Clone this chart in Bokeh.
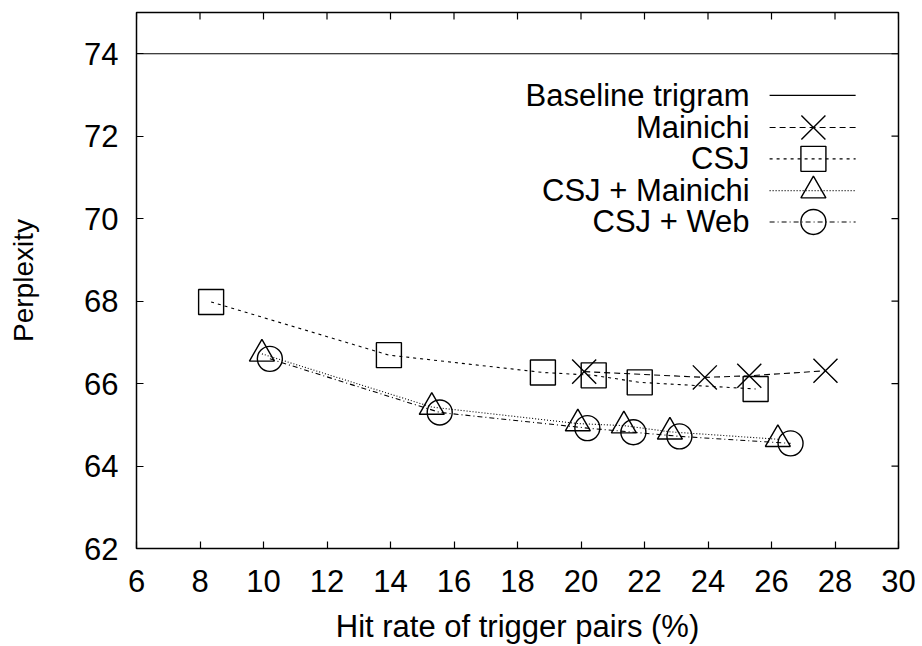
from bokeh.plotting import figure
from bokeh.models import Span, Label, FixedTicker, Range1d
from bokeh.embed import file_html
from bokeh.resources import INLINE

# ---- data ----
baseline_value = 74.0

mainichi_x = [20.1, 23.9, 25.3, 27.7]
mainichi_y = [66.29, 66.15, 66.19, 66.31]

csj_x = [8.35, 13.95, 18.8, 20.4, 21.85, 25.5]
csj_y = [67.98, 66.69, 66.27, 66.20, 66.03, 65.87]

csj_mainichi_x = [9.95, 15.3, 19.9, 21.35, 22.8, 26.2]
csj_mainichi_y = [66.72, 65.43, 65.03, 64.98, 64.83, 64.65]

csj_web_x = [10.2, 15.55, 20.2, 21.65, 23.1, 26.6]
csj_web_y = [66.60, 65.30, 64.92, 64.82, 64.72, 64.55]

x_ticks = [6, 8, 10, 12, 14, 16, 18, 20, 22, 24, 26, 28, 30]
y_ticks = [62, 64, 66, 68, 70, 72, 74]

legend_labels = ["Baseline trigram", "Mainichi", "CSJ", "CSJ + Mainichi", "CSJ + Web"]
x_title = "Hit rate of trigger pairs (%)"
y_title = "Perplexity"

FONT = "Liberation Sans"
INK = "black"

X0, X1, Y0, Y1 = 6, 30, 62, 75
W, H = 922, 646
BL, BR, BT, BB = 136, 24, 12, 97

p = figure(width=W, height=H, output_backend="svg", toolbar_location=None,
           x_range=Range1d(X0, X1), y_range=Range1d(Y0, Y1),
           min_border_left=BL, min_border_right=BR, min_border_top=BT, min_border_bottom=BB)
p.background_fill_color = "white"
p.border_fill_color = "white"
p.outline_line_color = "black"
p.outline_line_width = 1.5
p.xgrid.visible = False
p.ygrid.visible = False

def style_axis(ax, ticks):
    ax.ticker = FixedTicker(ticks=ticks)
    ax.major_tick_in = 7
    ax.major_tick_out = 0
    ax.minor_tick_in = 0
    ax.minor_tick_out = 0
    ax.major_tick_line_color = "black"
    ax.major_tick_line_width = 1.2
    ax.axis_line_color = None
    ax.major_label_text_font = FONT
    ax.major_label_text_color = INK
    ax.major_label_text_font_size = "31px"
    ax.axis_label_text_font = FONT
    ax.axis_label_text_font_style = "normal"
    ax.axis_label_text_color = INK

xa = p.xaxis[0]
style_axis(xa, x_ticks)
xa.axis_label = x_title
xa.axis_label_text_font_size = "31px"
xa.major_label_standoff = 21
xa.axis_label_standoff = 14

ya = p.yaxis[0]
style_axis(ya, y_ticks)
ya.axis_label = y_title
ya.axis_label_text_font_size = "28px"
ya.major_label_standoff = 18
ya.axis_label_standoff = 42

px_x = (W - BL - BR) / (X1 - X0)
px_y = (H - BT - BB) / (Y1 - Y0)

# mirrored inner ticks on the top and right borders (gnuplot style)
tick_len = 7
p.segment(x0=x_ticks, y0=[Y1] * len(x_ticks), x1=x_ticks,
          y1=[Y1 - tick_len / px_y] * len(x_ticks), line_color="black", line_width=1.2)
p.segment(x0=[X1] * len(y_ticks), y0=y_ticks, x1=[X1 - tick_len / px_x] * len(y_ticks),
          y1=y_ticks, line_color="black", line_width=1.2)

# ---- series ----
p.add_layout(Span(location=baseline_value, dimension="width", line_color=INK, line_width=1.2))

series = [
    (mainichi_x, mainichi_y, "6 4", "x", 34),
    (csj_x, csj_y, "3 4", "square", 25),
    (csj_mainichi_x, csj_mainichi_y, "1 2", "triangle", 25),
    (csj_web_x, csj_web_y, "5 3 1 3", "circle", 25),
]

for xs, ys, dash, marker, size in series:
    p.line(xs, ys, line_color=INK, line_width=1.1, line_dash=dash)
    p.scatter(xs, ys, marker=marker, size=size, line_color=INK, line_width=1.4,
              fill_alpha=0)

# ---- legend (gnuplot style: text on the left, sample on the right) ----
leg_text_x = 25.31
leg_line_x0, leg_line_x1 = 25.94, 28.65
leg_mark_x = 27.32
leg_rows = [72.99, 72.21, 71.45, 70.68, 69.92]

for i, (label, row) in enumerate(zip(legend_labels, leg_rows)):
    p.add_layout(Label(x=leg_text_x, y=row, text=label, text_align="right",
                       text_baseline="middle", text_font=FONT, text_font_size="31px",
                       text_color=INK))
    if i == 0:
        p.line([leg_line_x0, leg_line_x1], [row, row], line_color=INK, line_width=1.2)
    else:
        _, _, dash, marker, size = series[i - 1]
        p.line([leg_line_x0, leg_line_x1], [row, row], line_color=INK, line_width=1.1,
               line_dash=dash)
        p.scatter([leg_mark_x], [row], marker=marker, size=size, line_color=INK,
                  line_width=1.4, fill_alpha=0)

open("out.html", "w").write(file_html(p, INLINE))
